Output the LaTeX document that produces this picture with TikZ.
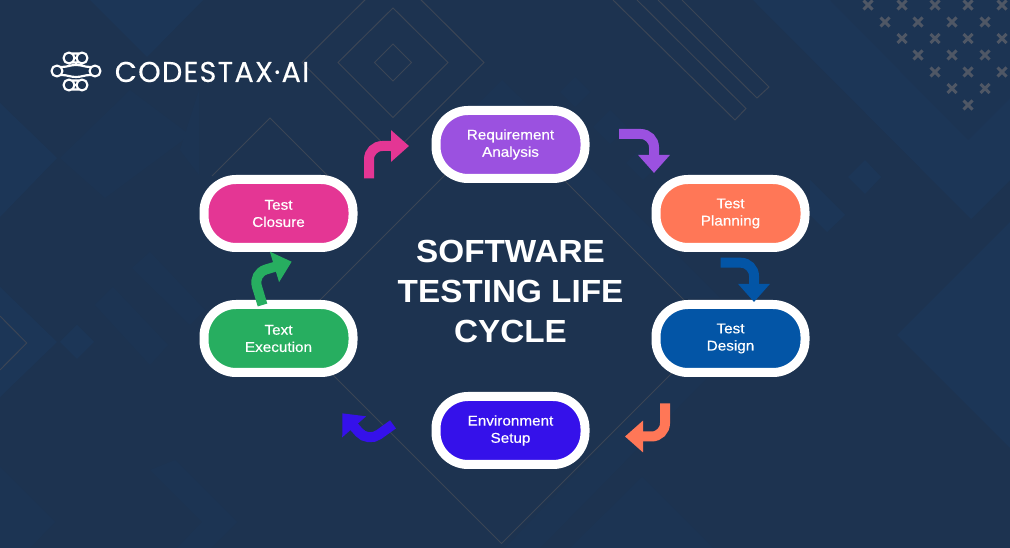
\documentclass[tikz,border=0pt]{standalone}
\usepackage{fontspec}
\usetikzlibrary{arrows.meta}
\setmainfont{Liberation Sans}
\newfontfamily\stagefont[FakeBold=.4,FakeStretch=1.08]{Liberation Sans}
\newfontfamily\titlefont[FakeStretch=1.04]{Liberation Sans}
\newfontfamily\brandfont[FakeBold=.3,LetterSpace=4.5]{Poppins}
\definecolor{bgbase}{HTML}{1D3350}
\definecolor{bgmid}{HTML}{1C3453}
\definecolor{bglight}{HTML}{1C3657}
\definecolor{thinline}{HTML}{3B4555}
\definecolor{crosscol}{HTML}{4F5765}
\definecolor{reqcol}{HTML}{9B51E0}
\definecolor{plancol}{HTML}{FF7757}
\definecolor{designcol}{HTML}{0355A6}
\definecolor{envcol}{HTML}{3511EA}
\definecolor{execcol}{HTML}{27AE60}
\definecolor{closecol}{HTML}{E43694}

\begin{document}
\begin{tikzpicture}[x=0.75pt,y=-0.75pt,
    stagepill/.style={draw=white,line width=6.75pt,rectangle,rounded corners=24pt,
        minimum width=111.75pt,minimum height=51pt,inner sep=0pt,text=white,align=center,
        font=\stagefont\fontsize{10.6}{12.9}\selectfont,
        execute at begin node=\rule{0pt}{11.6pt}},
    flowarrow/.style={line width=7.5pt,rounded corners=10pt,
        -{Triangle[length=13.5pt,width=23pt]}},
    xcross/.pic={\draw[crosscol,line width=2.25pt] (-4.5,-4.5) -- (4.5,4.5) (-4.5,4.5) -- (4.5,-4.5);}]
\useasboundingbox (0,0) rectangle (1010,548);
\begin{scope}
\clip (0,0) rectangle (1010,548);
\fill[bgbase] (0,0) rectangle (1010,548);
% lighter shapes, top right and right
\fill[bglight] (753,0) -- (971,219) -- (1010,180) -- (1010,0) -- cycle;
\fill[bgmid] (830,0) -- (968,140) -- (1010,98) -- (1010,0) -- cycle;
\fill[bglight] (1010,222) -- (897,335) -- (1010,448) -- cycle;
\fill[bgmid] (570,148) -- (720,298) -- (683,298) -- (566,180) -- cycle;
\fill[bgmid] (670,375) -- (707,378) -- (540,548) -- (505,548) -- cycle;
\fill[bgmid] (642,477) -- (570,548) -- (713,548) -- cycle;
\fill[bglight] (865,160) -- (881,177) -- (865,194) -- (848,177) -- cycle;
\fill[bglight] (810,180) -- (845,215) -- (827,232) -- (810,215) -- cycle;
\fill[bgmid] (610,110) -- (627,127) -- (610,144) -- (593,127) -- cycle;
\fill[bgmid] (643,146) -- (660,163) -- (643,180) -- (626,163) -- cycle;
\fill[bgmid] (575,77) -- (590,92) -- (575,107) -- (560,92) -- cycle;
\fill[bgmid] (502,80) -- (470,112) -- (535,112) -- cycle;
% lighter shapes, left
\fill[bglight] (90,0) -- (147,57) -- (203,0) -- cycle;
\fill[bglight] (0,103) -- (57,158) -- (0,217) -- cycle;
\fill[bgmid] (60,158) -- (130,90) -- (190,135) -- (105,198) -- cycle;
\fill[bglight] (0,287) -- (57,342) -- (0,397) -- cycle;
\fill[bglight] (77,325) -- (94,342) -- (77,359) -- (60,342) -- cycle;
\fill[bgmid] (150,252) -- (132,268) -- (190,325) -- (205,310) -- cycle;
\fill[bgmid] (113,287) -- (95,305) -- (150,365) -- (168,345) -- cycle;
\fill[bgmid] (199,90) -- (180,150) -- (199,175) -- cycle;
\fill[bgmid] (0,467) -- (55,522) -- (30,548) -- (0,548) -- cycle;
\fill[bgmid] (175,460) -- (237,522) -- (211,548) -- (177,548) -- (202,522) -- (150,470) -- cycle;
% thin outlines
\draw[thinline,line width=0.75pt]
    (393,44) -- (411.5,62.5) -- (393,81) -- (374.5,62.5) -- cycle
    (393,8) -- (448,62.5) -- (393,117.5) -- (338,62.5) -- cycle
    (393,-28) -- (484,62.5) -- (393,153.5) -- (302,62.5) -- cycle
    (212,176) -- (270,118) -- (345,193)
    (502,118) -- (714.5,330.5) -- (501.5,543.5) -- (289,331) -- cycle
    (613,0) -- (735,120) -- (746,108.5) -- (637,0)
    (658,0) -- (757,98) -- (769,87) -- (682,0)
    (0,316) -- (26.7,343) -- (0,370);
\end{scope}
% crosses, top right
\path (868,5) pic{xcross} (902,5) pic{xcross} (935,5) pic{xcross} (968,5) pic{xcross} (1002,5) pic{xcross}
    (885,22) pic{xcross} (918,22) pic{xcross} (952,22) pic{xcross} (985,22) pic{xcross}
    (902,38.5) pic{xcross} (935,38.5) pic{xcross} (968,38.5) pic{xcross} (1002,38.5) pic{xcross}
    (918,55) pic{xcross} (952,55) pic{xcross} (985,55) pic{xcross}
    (935,72) pic{xcross} (968,72) pic{xcross} (1002,72) pic{xcross}
    (952,88.5) pic{xcross} (985,88.5) pic{xcross}
    (968,105) pic{xcross};
% logo
\draw[white,line width=1.6pt,line join=round]
    (69,58) circle (5.5) (82,58) circle (5.5)
    (72,53.5) -- (79,53.5) (72,62.5) -- (79,62.5)
    (57,71) circle (5.5) (95,71) circle (5.5)
    (61,67) .. controls (68,67) and (70,65) .. (76,65) .. controls (82,65) and (84,67) .. (91,67)
    (61,75) .. controls (68,75) and (70,77) .. (76,77) .. controls (82,77) and (84,75) .. (91,75)
    (69,85) circle (5.5) (82,85) circle (5.5)
    (72,80.5) -- (79,80.5) (72,89.5) -- (79,89.5);
\node[anchor=base west,inner sep=0pt,text=white,font=\brandfont\fontsize{21.5}{24}\selectfont] (brand) at (114.5,82) {CODESTAX·AI};
% title
\node[text=white,align=center,inner sep=0pt,font=\titlefont\bfseries\fontsize{24}{30}\selectfont] (title) at (510.5,291.5) {SOFTWARE\\TESTING LIFE\\CYCLE};
% stages
\node[stagepill,fill=reqcol] (reqnode) at (510.5,144.5) {Requirement\\Analysis};
\node[stagepill,fill=plancol] (plannode) at (730.5,213.5) {Test\\Planning};
\node[stagepill,fill=designcol] (designnode) at (730.5,338.5) {Test\\Design};
\node[stagepill,fill=envcol] (envnode) at (510.5,430.5) {Environment\\Setup};
\node[stagepill,fill=execcol] (execnode) at (278.5,338.5) {Text\\Execution};
\node[stagepill,fill=closecol] (closenode) at (278.5,213.5) {Test\\Closure};
% arrow ends
\coordinate (reqout) at (619,134);
\coordinate (planin) at (654,173);
\coordinate (planout) at (720.5,262.7);
\coordinate (designin) at (754,302);
\coordinate (designout) at (665,403.3);
\coordinate (envin) at (625,436.5);
\coordinate (envout) at (393,424.4);
\coordinate (envbend) at (367.9,442.4);
\coordinate (execin) at (342.3,413.3);
\coordinate (execout) at (262.5,305);
\coordinate (execbend) at (253,273.4);
\coordinate (closein) at (291.7,261.7);
\coordinate (closeout) at (369,178.3);
\coordinate (reqin) at (409,146);
\draw[flowarrow,reqcol] (reqout) -| (planin);
\draw[flowarrow,designcol] (planout) -| (designin);
\draw[flowarrow,plancol] (designout) |- (envin);
\draw[flowarrow,envcol] (envout) -- (envbend) -- (execin);
\draw[flowarrow,execcol] (execout) -- (execbend) -- (closein);
\draw[flowarrow,closecol] (closeout) |- (reqin);
\end{tikzpicture}
\end{document}
